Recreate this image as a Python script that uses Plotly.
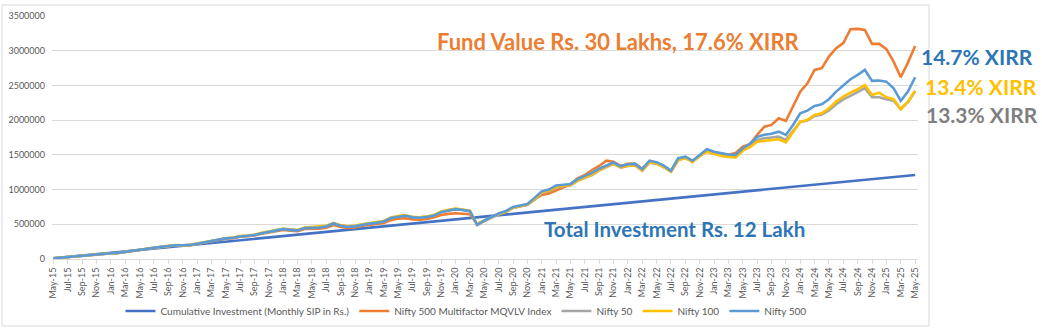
import pandas as pd
import plotly.graph_objects as go

# Month labels May-15 .. May-25
months = pd.date_range("2015-05-01", periods=121, freq="MS").strftime("%b-%y").tolist()

cumulative_investment = [
    10000, 20000, 30000, 40000, 50000, 60000, 70000, 80000, 90000, 100000,
    110000, 120000, 130000, 140000, 150000, 160000, 170000, 180000, 190000, 200000,
    210000, 220000, 230000, 240000, 250000, 260000, 270000, 280000, 290000, 300000,
    310000, 320000, 330000, 340000, 350000, 360000, 370000, 380000, 390000, 400000,
    410000, 420000, 430000, 440000, 450000, 460000, 470000, 480000, 490000, 500000,
    510000, 520000, 530000, 540000, 550000, 560000, 570000, 580000, 590000, 600000,
    610000, 620000, 630000, 640000, 650000, 660000, 670000, 680000, 690000, 700000,
    710000, 720000, 730000, 740000, 750000, 760000, 770000, 780000, 790000, 800000,
    810000, 820000, 830000, 840000, 850000, 860000, 870000, 880000, 890000, 900000,
    910000, 920000, 930000, 940000, 950000, 960000, 970000, 980000, 990000, 1000000,
    1010000, 1020000, 1030000, 1040000, 1050000, 1060000, 1070000, 1080000, 1090000, 1100000,
    1110000, 1120000, 1130000, 1140000, 1150000, 1160000, 1170000, 1180000, 1190000, 1200000,
    1210000,
]

mqvlv_value = [
    10000, 20000, 30000, 38000, 48000, 58000, 66000, 77000, 83000, 87000,
    103000, 121000, 133000, 146000, 161000, 174000, 185000, 197000, 195000, 200000,
    216000, 236000, 258000, 275000, 292000, 300000, 320000, 328000, 340000, 365000,
    382000, 400000, 418000, 408000, 400000, 432000, 435000, 438000, 452000, 490000,
    462000, 448000, 455000, 478000, 490000, 500000, 520000, 560000, 582000, 586000,
    570000, 565000, 575000, 600000, 634000, 650000, 658000, 652000, 646000, 505000,
    552000, 600000, 650000, 685000, 740000, 760000, 780000, 860000, 922000, 945000,
    990000, 1040000, 1075000, 1160000, 1210000, 1282000, 1340000, 1416000, 1402000, 1340000,
    1370000, 1375000, 1300000, 1405000, 1385000, 1330000, 1265000, 1435000, 1460000, 1400000,
    1490000, 1560000, 1535000, 1515000, 1500000, 1527000, 1618000, 1657000, 1790000, 1906000,
    1931000, 2027000, 1988000, 2195000, 2411000, 2531000, 2723000, 2748000, 2915000, 3036000,
    3110000, 3310000, 3314000, 3300000, 3098000, 3098000, 3022000, 2843000, 2618000, 2829000,
    3069000,
]

nifty50_value = [
    10000, 20000, 30000, 38000, 47000, 56000, 64000, 75000, 81000, 86000,
    103000, 120000, 132000, 145000, 160000, 174000, 185000, 196000, 195000, 202000,
    220000, 240000, 261000, 279000, 297000, 307000, 327000, 335000, 347000, 372000,
    392000, 413000, 434000, 423000, 415000, 450000, 455000, 460000, 477000, 516000,
    482000, 468000, 478000, 500000, 513000, 522000, 545000, 592000, 615000, 626000,
    605000, 600000, 610000, 632000, 680000, 702000, 718000, 705000, 688000, 490000,
    550000, 598000, 642000, 675000, 735000, 757000, 780000, 852000, 950000, 978000,
    1030000, 1048000, 1060000, 1125000, 1165000, 1210000, 1272000, 1318000, 1370000, 1315000,
    1340000, 1348000, 1272000, 1388000, 1372000, 1322000, 1258000, 1425000, 1460000, 1405000,
    1485000, 1550000, 1518000, 1490000, 1478000, 1472000, 1570000, 1620000, 1715000, 1740000,
    1750000, 1762000, 1715000, 1840000, 1975000, 1995000, 2060000, 2080000, 2140000, 2230000,
    2300000, 2349000, 2400000, 2460000, 2330000, 2330000, 2301000, 2280000, 2160000, 2260000,
    2415000,
]

nifty100_value = [
    10000, 20000, 30000, 38000, 48000, 57000, 65000, 76000, 83000, 88000,
    105000, 122000, 134000, 147000, 163000, 177000, 188000, 200000, 198000, 204000,
    222000, 242000, 264000, 282000, 300000, 310000, 330000, 338000, 350000, 376000,
    395000, 415000, 436000, 426000, 418000, 452000, 458000, 462000, 478000, 518000,
    485000, 470000, 478000, 500000, 515000, 525000, 548000, 598000, 620000, 630000,
    608000, 602000, 612000, 635000, 685000, 708000, 725000, 712000, 695000, 495000,
    555000, 602000, 648000, 680000, 740000, 762000, 785000, 860000, 960000, 985000,
    1040000, 1055000, 1065000, 1130000, 1170000, 1215000, 1280000, 1325000, 1375000, 1320000,
    1345000, 1350000, 1275000, 1390000, 1375000, 1325000, 1260000, 1420000, 1455000, 1400000,
    1480000, 1545000, 1512000, 1484000, 1470000, 1462000, 1560000, 1610000, 1690000, 1705000,
    1710000, 1725000, 1681000, 1834000, 1978000, 2003000, 2075000, 2099000, 2171000, 2267000,
    2340000, 2396000, 2445000, 2507000, 2363000, 2396000, 2330000, 2301000, 2157000, 2267000,
    2425000,
]

nifty500_value = [
    10000, 20000, 29000, 37000, 47000, 57000, 64000, 75000, 82000, 88000,
    104000, 122000, 134000, 147000, 162000, 176000, 187000, 199000, 197000, 203000,
    220000, 240000, 262000, 280000, 297000, 305000, 325000, 333000, 345000, 372000,
    390000, 410000, 430000, 420000, 412000, 445000, 450000, 452000, 468000, 512000,
    478000, 462000, 470000, 495000, 510000, 520000, 540000, 590000, 610000, 622000,
    600000, 595000, 605000, 625000, 675000, 700000, 718000, 705000, 688000, 490000,
    555000, 605000, 655000, 690000, 750000, 770000, 792000, 880000, 975000, 1000000,
    1060000, 1070000, 1081000, 1150000, 1190000, 1240000, 1300000, 1345000, 1390000, 1335000,
    1365000, 1370000, 1292000, 1416000, 1395000, 1345000, 1272000, 1451000, 1474000, 1416000,
    1500000, 1580000, 1545000, 1523000, 1505000, 1499000, 1595000, 1660000, 1760000, 1790000,
    1805000, 1834000, 1787000, 1931000, 2099000, 2137000, 2205000, 2229000, 2301000, 2411000,
    2500000, 2589000, 2651000, 2723000, 2565000, 2570000, 2555000, 2460000, 2277000, 2411000,
    2618000,
]

series_names = [
    "Cumulative Investment (Monthly SIP in Rs.)",
    "Nifty 500 Multifactor MQVLV Index",
    "Nifty 50",
    "Nifty 100",
    "Nifty 500",
]
series_values = [cumulative_investment, mqvlv_value, nifty50_value, nifty100_value, nifty500_value]
series_colors = ["#4472C4", "#ED7D31", "#A5A5A5", "#FFC000", "#5B9BD5"]

W, H = 1042, 328
L, R, T, B = 52, 918, 16, 259  # plot area in pixels


def px_x(x):
    return (x - L) / (R - L)


def px_y(y):
    return (B - y) / (B - T)


fig = go.Figure()
for name, vals, col in zip(series_names, series_values, series_colors):
    fig.add_trace(go.Scatter(
        x=months, y=vals, name=name, mode="lines",
        line=dict(color=col, width=2.6),
    ))

FONT = "Lato"
TXT = "#595959"

fig.update_layout(
    width=W, height=H,
    margin=dict(l=L, r=W - R, t=T, b=H - B, autoexpand=False),
    paper_bgcolor="white", plot_bgcolor="white",
    font=dict(family=FONT, color=TXT, size=9),
    showlegend=True,
    legend=dict(
        orientation="h", x=px_x(466), y=px_y(311), xanchor="center", yanchor="middle",
        font=dict(size=10, color=TXT), itemwidth=30, tracegroupgap=0,
        bgcolor="rgba(0,0,0,0)",
    ),
    xaxis=dict(
        type="category", range=[-0.2, 120.4], automargin=False,
        tickmode="array", tickvals=months[::2], ticktext=months[::2],
        tickangle=-90, tickfont=dict(size=9, color=TXT),
        showgrid=False, showline=True, linecolor="#D9D9D9", linewidth=1,
        ticks="outside", ticklen=4, tickcolor="#D9D9D9",
        zeroline=False,
    ),
    yaxis=dict(
        range=[0, 3500000], dtick=500000, tickformat="d", automargin=False,
        tickfont=dict(size=9, color=TXT),
        showgrid=True, gridcolor="#D9D9D9", gridwidth=1,
        zeroline=False, showline=False, ticks="", ticklabelstandoff=6,
    ),
)

# chart-area border
fig.add_shape(
    type="rect", xref="paper", yref="paper",
    x0=px_x(2), x1=px_x(929), y0=px_y(326), y1=px_y(5),
    line=dict(color="#D9D9D9", width=1), layer="below",
)

notes = [
    ("Fund Value Rs. 30 Lakhs, 17.6% XIRR", 618, 42, "#ED7D31", 22),
    ("Total Investment Rs. 12 Lakh", 674, 229, "#2E75B6", 20.5),
    ("14.7% XIRR", 977, 56, "#2E75B6", 21),
    ("13.4% XIRR", 981, 86, "#FFC000", 21),
    ("13.3% XIRR", 982, 114, "#7F7F7F", 21),
]
for text, cx, cy, col, size in notes:
    fig.add_annotation(
        text=f"<b>{text}</b>", xref="paper", yref="paper",
        x=px_x(cx), y=px_y(cy), xanchor="center", yanchor="middle",
        showarrow=False, font=dict(family=FONT, size=size, color=col),
    )

fig.write_html("out.html")
